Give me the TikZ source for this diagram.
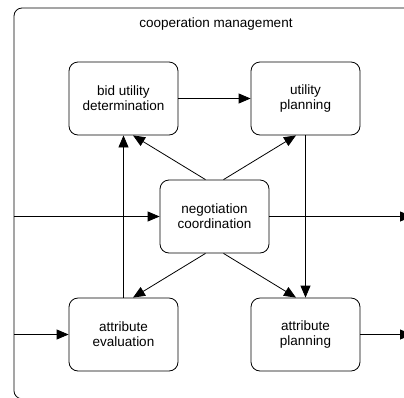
\documentclass[tikz,border=0pt]{standalone}
\usepackage{fontspec}
\setmainfont{Liberation Sans}
\usetikzlibrary{arrows.meta}
\begin{document}
\begin{tikzpicture}[x=1pt,y=-1pt,
  box/.style={draw,line width=0.8pt,rounded corners=9pt,minimum width=109pt,minimum height=73pt,inner sep=0pt,align=center,font=\fontsize{13.5}{15}\selectfont},
  conn/.style={line width=0.8pt,-{Triangle[length=12pt,width=10pt]}},
  title/.style={font=\fontsize{13.5}{15}\selectfont}]
\useasboundingbox (0,0) rectangle (404,397);
\draw[line width=0.8pt,rounded corners=8pt] (430,8) -- (14,8) -- (14,398.8) -- (430,398.8);
\node[title] (ttl) at (216,24) {cooperation management};
\node[box] (bid) at (123.5,98.5) {bid utility\\determination};
\node[box] (util) at (305.5,98.5) {utility\\planning};
\node[box] (nego) at (214.5,216.5) {negotiation\\coordination};
\node[box] (eval) at (123.5,334.5) {attribute\\evaluation};
\node[box] (aplan) at (305.5,334.5) {attribute\\planning};
\coordinate (inA) at (14,216.5);
\coordinate (inB) at (14,334.5);
\coordinate (outA) at (412,216.5);
\coordinate (outB) at (412,334.5);
\draw[conn] (bid.east) -- (util.west);
\draw[conn] ([xshift=-9pt]nego.north) -- ([xshift=9.5pt]bid.south);
\draw[conn] ([xshift=9pt]nego.north) -- ([xshift=-9.5pt]util.south);
\draw[conn] (eval.north) -- (bid.south);
\draw[conn] (util.south) -- (aplan.north);
\draw[conn] ([xshift=-9pt]nego.south) -- ([xshift=9.5pt]eval.north);
\draw[conn] ([xshift=9pt]nego.south) -- ([xshift=-9.5pt]aplan.north);
\draw[conn] (inA) -- (nego.west);
\draw[conn] (inB) -- (eval.west);
\draw[conn] (nego.east) -- (outA);
\draw[conn] (aplan.east) -- (outB);
\end{tikzpicture}
\end{document}
